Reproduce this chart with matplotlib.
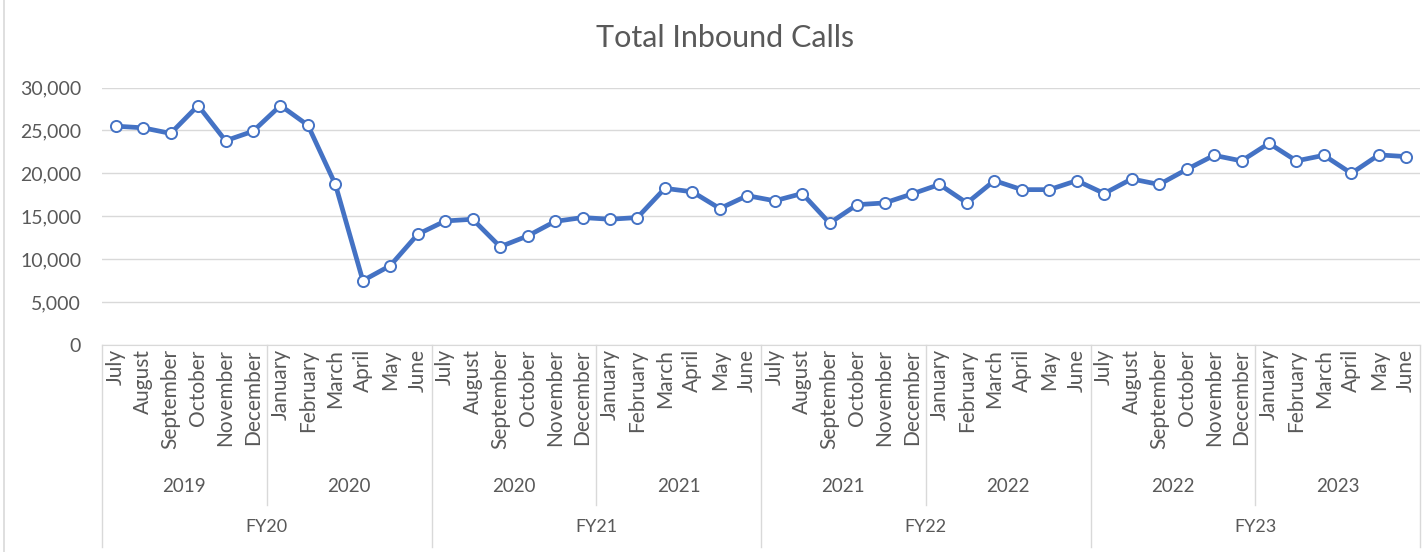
import matplotlib.pyplot as plt
from matplotlib.ticker import FuncFormatter

plt.rcParams['font.family'] = ['Lato', 'DejaVu Sans']

months = ['July', 'August', 'September', 'October', 'November', 'December',
          'January', 'February', 'March', 'April', 'May', 'June'] * 4
years = ['2019', '2020', '2020', '2021', '2021', '2022', '2022', '2023']
fiscal_years = ['FY20', 'FY21', 'FY22', 'FY23']

calls = [25500, 25300, 24650, 27900, 23800, 24900,
         27900, 25600, 18700, 7500, 9250, 12900,
         14450, 14650, 11450, 12700, 14400, 14850,
         14650, 14850, 18250, 17850, 15900, 17400,
         16800, 17650, 14200, 16350, 16550, 17600,
         18700, 16550, 19150, 18100, 18100, 19150,
         17650, 19350, 18700, 20450, 22100, 21450,
         23500, 21450, 22100, 20000, 22150, 21950]

W, H = 1427, 552
fig = plt.figure(figsize=(W / 100, H / 100), dpi=100)
x0, x1, ytop, ybot = 102, 1420, 87.5, 345
ax = fig.add_axes([x0 / W, 1 - ybot / H, (x1 - x0) / W, (ybot - ytop) / H])

grey = '#595959'
line_grey = '#D9D9D9'
blue = '#4472C4'

x = list(range(len(calls)))
ax.plot(x, calls, color=blue, lw=3.4, marker='o', ms=8, mfc='white',
        mec=blue, mew=1.4, zorder=3, clip_on=False)

ax.set_xlim(-0.5, len(calls) - 0.5)
ax.set_ylim(0, 30000)
ax.set_yticks(range(0, 30001, 5000))
ax.yaxis.set_major_formatter(FuncFormatter(lambda v, p: f'{int(v):,}'))
ax.grid(axis='y', color=line_grey, lw=1)
ax.set_axisbelow(True)
for s in ['top', 'right', 'left']:
    ax.spines[s].set_visible(False)
ax.spines['bottom'].set_color(line_grey)
ax.tick_params(axis='y', length=0, pad=15, labelsize=14, labelcolor=grey)
ax.set_xticks(x)
ax.set_xticklabels(months, rotation=90, fontsize=15, color=grey)
ax.tick_params(axis='x', length=0, pad=3)


def ay(py):
    # pixel y -> axes fraction
    return (ybot - py) / (ybot - ytop)


tr = ax.get_xaxis_transform()
# category bracket lines
for i in range(0, 49, 12):
    ax.plot([i - 0.5, i - 0.5], [0, ay(547)], color=line_grey, lw=1,
            transform=tr, clip_on=False)
for i in range(6, 48, 12):
    ax.plot([i - 0.5, i - 0.5], [0, ay(505)], color=line_grey, lw=1,
            transform=tr, clip_on=False)
for k, yr in enumerate(years):
    ax.text(k * 6 + 2.5, ay(487), yr, transform=tr, ha='center', va='center',
            fontsize=13.5, color=grey)
for k, fy in enumerate(fiscal_years):
    ax.text(k * 12 + 5.5, ay(527), fy, transform=tr, ha='center', va='center',
            fontsize=13, color=grey)

# chart outer border (left edge)
fig.add_artist(plt.Line2D([4 / W, 4 / W], [0, 1], color=line_grey, lw=1.2))

fig.text(725 / W, 1 - 38 / H, 'Total Inbound Calls', ha='center', va='center',
         fontsize=22, color=grey)

fig.savefig('out.png', dpi=100)
